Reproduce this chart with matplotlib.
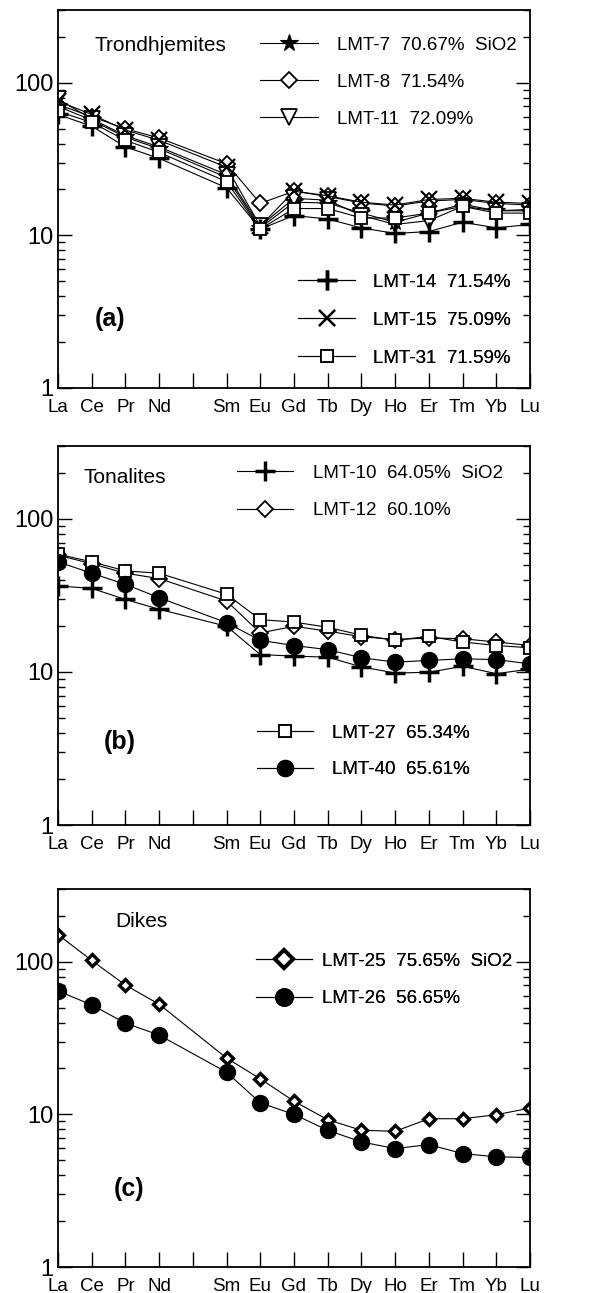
import matplotlib
matplotlib.use('Agg')
import matplotlib.pyplot as plt
from matplotlib.ticker import LogLocator, NullFormatter, FixedLocator, FixedFormatter

plt.rcParams['font.family'] = ['Liberation Sans', 'DejaVu Sans']

# ---------------- data ----------------
positions = ['La', 'Ce', 'Pr', 'Nd', 'Pm', 'Sm', 'Eu', 'Gd', 'Tb', 'Dy', 'Ho', 'Er', 'Tm', 'Yb', 'Lu']
tick_labels = ['La', 'Ce', 'Pr', 'Nd', '', 'Sm', 'Eu', 'Gd', 'Tb', 'Dy', 'Ho', 'Er', 'Tm', 'Yb', 'Lu']
ree = ['La', 'Ce', 'Pr', 'Nd', 'Sm', 'Eu', 'Gd', 'Tb', 'Dy', 'Ho', 'Er', 'Tm', 'Yb', 'Lu']

# (a) Trondhjemites
lmt7 = [70, 57, 44, 37, 24, 11.2, 16.5, 16.3, 14.0, 12.2, 14.0, 16.0, 14.5, 14.8]
lmt8 = [72, 60, 50, 43.5, 29.5, 16.2, 19.5, 18.0, 16.3, 15.6, 16.8, 17.2, 16.2, 15.8]
lmt11 = [78, 58, 45, 38, 25, 11.5, 17.5, 17.0, 13.5, 11.8, 12.5, 15.5, 14.5, 14.5]
lmt14 = [62, 52, 38, 32, 20.5, 11.0, 13.5, 12.8, 11.2, 10.3, 10.6, 12.2, 11.2, 11.8]
lmt15 = [76, 62, 49, 42, 28, 11.5, 19.5, 18.2, 16.5, 15.8, 17.2, 17.5, 16.5, 16.2]
lmt31 = [65, 55, 42, 35, 22.5, 11.0, 15.0, 15.0, 13.0, 13.0, 14.0, 15.5, 14.0, 14.0]

# (b) Tonalites
lmt10 = [36.5, 35.2, 29.8, 25.7, 19.9, 13.0, 12.7, 12.5, 10.8, 9.85, 9.95, 10.9, 9.75, 10.45]
lmt12 = [58, 51, 44.2, 40.8, 29.1, 18.0, 19.9, 18.5, 17.0, 16.3, 16.7, 16.5, 15.7, 14.9]
lmt27 = [58.9, 52.5, 45.8, 44.2, 32.2, 22.0, 21.2, 19.6, 17.4, 16.1, 17.1, 15.7, 14.9, 14.4]
lmt40 = [52.5, 44.2, 37.4, 30.6, 21.0, 16.1, 14.9, 14.0, 12.4, 11.6, 11.9, 12.2, 12.05, 11.3]

# (c) Dikes
lmt25 = [150.8, 102, 70.4, 52.7, 23.4, 17.1, 12.2, 9.23, 7.87, 7.75, 9.37, 9.37, 9.95, 11.0]
lmt26 = [64.4, 52.2, 39.6, 33.1, 18.9, 11.9, 10.0, 7.87, 6.6, 5.97, 6.34, 5.54, 5.27, 5.22]

labels_a_top = ['LMT-7  70.67%  SiO2', 'LMT-8  71.54%', 'LMT-11  72.09%']
labels_a_bot = ['LMT-14  71.54%', 'LMT-15  75.09%', 'LMT-31  71.59%']
labels_b_top = ['LMT-10  64.05%  SiO2', 'LMT-12  60.10%']
labels_b_bot = ['LMT-27  65.34%', 'LMT-40  65.61%']
labels_c = ['LMT-25  75.65%  SiO2', 'LMT-26  56.65%']

xs = [positions.index(e) for e in ree]

# ---------------- styles ----------------
LW = 0.8
st = {
    'star': dict(marker='*', ms=13, mfc='black', mec='black', mew=0.8),
    'diam': dict(marker='D', ms=8.5, mfc='white', mec='black', mew=1.3),
    'tri': dict(marker='v', ms=11, mfc='white', mec='black', mew=1.3),
    'plus': dict(marker='+', ms=14, mec='black', mew=2.5),
    'x': dict(marker='x', ms=11, mec='black', mew=1.6),
    'sq': dict(marker='s', ms=9, mfc='white', mec='black', mew=1.3),
    'circ': dict(marker='o', ms=11.5, mfc='black', mec='black'),
    'diamc': dict(marker='D', ms=6.5, mfc='white', mec='black', mew=2.4),
}

W, H = 613, 1293
fig = plt.figure(figsize=(W / 100, H / 100), dpi=100)

def make_ax(top_px, bot_px):
    left, right = 58, 530
    ax = fig.add_axes([left / W, 1 - bot_px / H, (right - left) / W, (bot_px - top_px) / H])
    ax.set_yscale('log')
    ax.set_ylim(1, 300)
    ax.set_xlim(0, len(positions) - 1)
    ax.xaxis.set_major_locator(FixedLocator(range(len(positions))))
    ax.xaxis.set_major_formatter(FixedFormatter(tick_labels))
    ax.yaxis.set_minor_locator(LogLocator(base=10, subs=range(2, 10), numticks=20))
    ax.yaxis.set_minor_formatter(NullFormatter())
    ax.set_yticks([1, 10, 100])
    ax.set_yticklabels(['1', '10', '100'])
    ax.tick_params(axis='x', which='major', direction='in', length=11, width=1.0,
                   labelsize=13.5, pad=8, top=False, bottom=True)
    ax.tick_params(axis='y', which='major', direction='in', length=10, width=1.0,
                   labelsize=17, pad=3.5, left=True, right=True)
    ax.tick_params(axis='y', which='minor', direction='in', length=5, width=1.0,
                   left=True, right=True)
    for s in ax.spines.values():
        s.set_linewidth(1.3)
    return ax

def add_leg(ax, handles, labels, x_frac, row1_px, ax_h_px, hl_px, tp_px, pitch_px=36.5):
    fs = 13.5
    fs_px = fs * 100 / 72
    text_h = 0.89 * fs_px
    ls = (pitch_px - text_h) / fs_px
    y = 1 - (row1_px - text_h / 2) / ax_h_px
    leg = ax.legend(handles, labels, loc='upper left', bbox_to_anchor=(x_frac, y),
                    frameon=False, fontsize=fs, borderpad=0, borderaxespad=0,
                    handlelength=hl_px / fs_px, handletextpad=tp_px / fs_px,
                    labelspacing=ls, numpoints=1)
    ax.add_artist(leg)
    return leg

# ---------------- panel (a) ----------------
ax = make_ax(10, 388)
h7, = ax.plot(xs, lmt7, color='black', lw=LW, **st['star'])
h8, = ax.plot(xs, lmt8, color='black', lw=LW, **st['diam'])
h11, = ax.plot(xs, lmt11, color='black', lw=LW, **st['tri'])
h14, = ax.plot(xs, lmt14, color='black', lw=LW, **st['plus'])
h15, = ax.plot(xs, lmt15, color='black', lw=LW, **st['x'])
h31, = ax.plot(xs, lmt31, color='black', lw=LW, **st['sq'])
ax.text(0.078, 0.907, 'Trondhjemites', transform=ax.transAxes, fontsize=15, va='center', ha='left')
ax.text(0.11, 0.183, '(a)', transform=ax.transAxes, fontsize=18, fontweight='bold', va='center', ha='center')
add_leg(ax, [h7, h8, h11], labels_a_top, (260 - 58) / 472, 45 - 10, 378, 58, 19, pitch_px=36.5)
add_leg(ax, [h14, h15, h31], labels_a_bot, (298 - 58) / 472, 282 - 10, 378, 57, 18, pitch_px=37.5)

# ---------------- panel (b) ----------------
ax = make_ax(446, 825)
h10, = ax.plot(xs, lmt10, color='black', lw=LW, **st['plus'])
h12, = ax.plot(xs, lmt12, color='black', lw=LW, **st['diam'])
h27, = ax.plot(xs, lmt27, color='black', lw=LW, **st['sq'])
h40, = ax.plot(xs, lmt40, color='black', lw=LW, **st['circ'])
ax.text(0.053, 0.918, 'Tonalites', transform=ax.transAxes, fontsize=15, va='center', ha='left')
ax.text(0.131, 0.219, '(b)', transform=ax.transAxes, fontsize=18, fontweight='bold', va='center', ha='center')
add_leg(ax, [h10, h12], labels_b_top, (237 - 58) / 472, 473 - 446, 379, 56, 20, pitch_px=37)
add_leg(ax, [h27, h40], labels_b_bot, (257 - 58) / 472, 733 - 446, 379, 56, 19, pitch_px=36)

# ---------------- panel (c) ----------------
ax = make_ax(889, 1267)
h25, = ax.plot(xs, lmt25, color='black', lw=LW, **st['diamc'])
h26, = ax.plot(xs, lmt26, color='black', lw=LW, **st['circ'])
ax.text(0.121, 0.913, 'Dikes', transform=ax.transAxes, fontsize=15, va='center', ha='left')
ax.text(0.15, 0.206, '(c)', transform=ax.transAxes, fontsize=18, fontweight='bold', va='center', ha='center')
leg = add_leg(ax, [h25, h26], labels_c, (256 - 58) / 472, 961 - 889, 378, 56, 10, pitch_px=37)
leg.legend_handles[0].set_markersize(9)
leg.legend_handles[0].set_markeredgewidth(2.8)
leg.legend_handles[1].set_markersize(12.5)

fig.savefig('out.png', dpi=100)
